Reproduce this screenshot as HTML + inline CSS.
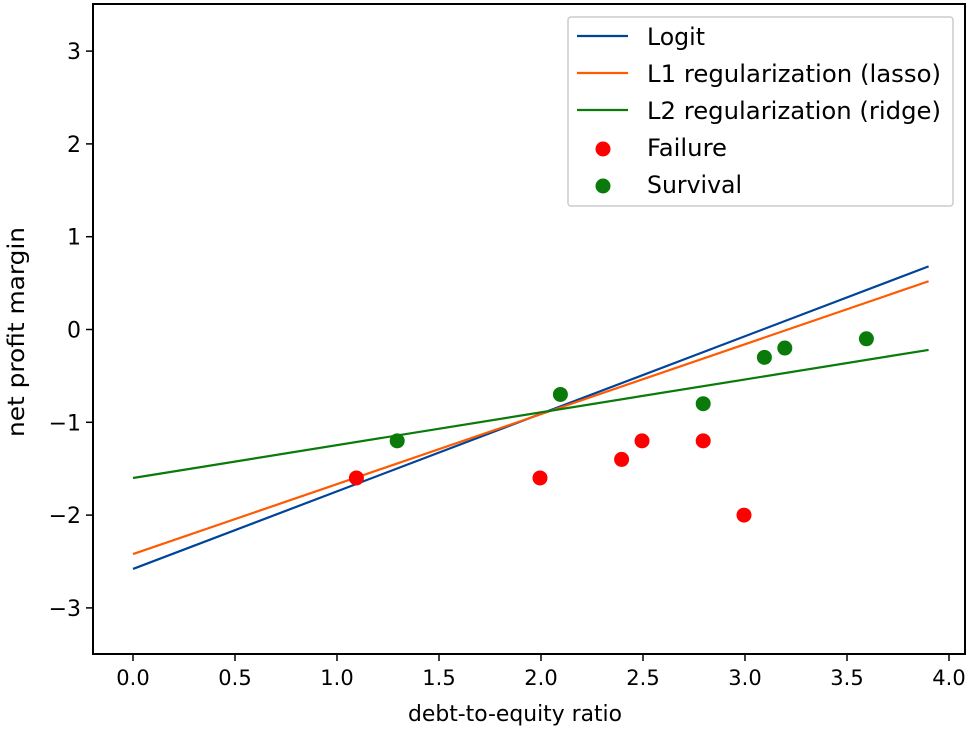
<!DOCTYPE html>
<html><head><meta charset="utf-8"><style>
body{margin:0;background:#fff}
svg{display:block;font-family:"DejaVu Sans","Liberation Sans",sans-serif}
</style></head><body>
<svg id="chart" width="971" height="732"></svg>
<script>
const xTicks=[0,0.5,1,1.5,2,2.5,3,3.5,4];
const xTickLabels=["0.0","0.5","1.0","1.5","2.0","2.5","3.0","3.5","4.0"];
const yTicks=[-3,-2,-1,0,1,2,3];
const yTickLabels=["\u22123","\u22122","\u22121","0","1","2","3"];
const lineNames=["Logit","L1 regularization (lasso)","L2 regularization (ridge)"];
const lineColors=["#00449a","#ff5a00","#0a7a0a"];
const lineX=[0,3.9];
const logitY=[-2.58,0.68];
const lassoY=[-2.42,0.52];
const ridgeY=[-1.6,-0.22];
const failX=[1.1,2.0,2.4,2.5,2.8,3.0];
const failY=[-1.6,-1.6,-1.4,-1.2,-1.2,-2.0];
const survX=[1.3,2.1,2.8,3.1,3.2,3.6];
const survY=[-1.2,-0.7,-0.8,-0.3,-0.2,-0.1];

const L=93,R=965,T=4,B=654;
const sx=v=>133+v*204;
const sy=v=>329.5-v*92.8;
const svg=document.getElementById('chart');
const NS='http://www.w3.org/2000/svg';
function mk(tag,attrs,parent){const e=document.createElementNS(NS,tag);for(const k in attrs)e.setAttribute(k,attrs[k]);(parent||svg).appendChild(e);return e;}

const frame=mk('rect',{x:L,y:T,width:R-L,height:B-T,fill:'none',stroke:'#000','stroke-width':2});



xTicks.forEach((v,i)=>{
  const t=mk('line',{x1:sx(v),x2:sx(v),y1:B,y2:B+7,stroke:'#000','stroke-width':1.5});
  
  
  const tx=mk('text',{x:sx(v),y:B+31,'text-anchor':'middle','font-size':21});
  tx.textContent=xTickLabels[i];
  
  
});
yTicks.forEach((v,i)=>{
  const t=mk('line',{x1:L-7,x2:L,y1:sy(v),y2:sy(v),stroke:'#000','stroke-width':1.5});
  
  
  const tx=mk('text',{x:L-12,y:sy(v)+8,'text-anchor':'end','font-size':22});
  tx.textContent=yTickLabels[i];
  
  
});
const xt=mk('text',{x:408,y:721,'font-size':22,textLength:214,lengthAdjust:'spacingAndGlyphs'});
xt.textContent='debt-to-equity ratio';


const yt=mk('text',{x:0,y:0,'text-anchor':'middle','font-size':23,textLength:210,lengthAdjust:'spacingAndGlyphs',transform:'translate(24,332) rotate(-90)'});
yt.textContent='net profit margin';



[logitY,lassoY,ridgeY].forEach((ys,i)=>{
  const l=mk('line',{x1:sx(lineX[0]),y1:sy(ys[0]),x2:sx(lineX[1]),y2:sy(ys[1]),stroke:lineColors[i],'stroke-width':2.2});
  
  
});
failX.forEach((x,i)=>{
  const c=mk('circle',{cx:sx(x)-1,cy:sy(failY[i]),r:7.5,fill:'#ff0000'});
  
  
});
survX.forEach((x,i)=>{
  const c=mk('circle',{cx:sx(x)-1,cy:sy(survY[i]),r:7.5,fill:'#0a7a0a'});
  
  
});

const lg=mk('g',{});


mk('rect',{x:568,y:17,width:385,height:189,rx:3,fill:'#fff',stroke:'#ccc','stroke-width':1.5},lg);
const labels=lineNames.concat(['Failure','Survival']);
const labelW=[58,294,294,80,95];
labels.forEach((s,i)=>{
  const y=36+i*37;
  if(i<3){
    const l=mk('line',{x1:577,x2:628,y1:y,y2:y,stroke:lineColors[i],'stroke-width':2.2},lg);
    
    
  } else {
    const c=mk('circle',{cx:603,cy:y+2,r:7.5,fill:i===3?'#ff0000':'#0a7a0a'},lg);
    
    
  }
  const t=mk('text',{x:647,y:y+9,'font-size':24,textLength:labelW[i],lengthAdjust:'spacingAndGlyphs'},lg);
  t.textContent=s;
  
  
});
</script>
</body></html>
